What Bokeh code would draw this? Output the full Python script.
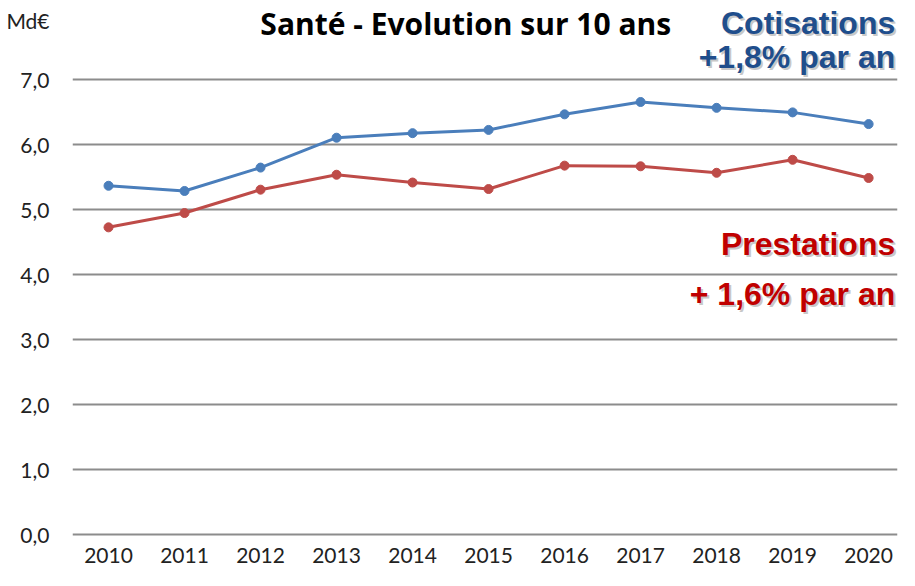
from bokeh.plotting import figure
from bokeh.models import Range1d, Label, FixedTicker, CustomJSTickFormatter
from bokeh.embed import file_html
from bokeh.resources import INLINE

years = [2010, 2011, 2012, 2013, 2014, 2015, 2016, 2017, 2018, 2019, 2020]
cotisations = [5.37, 5.29, 5.65, 6.11, 6.18, 6.23, 6.47, 6.66, 6.57, 6.50, 6.32]
prestations = [4.73, 4.95, 5.31, 5.54, 5.42, 5.32, 5.68, 5.67, 5.57, 5.77, 5.49]
y_ticks = [0, 1, 2, 3, 4, 5, 6, 7]
unit_label = "Md€"
unit_pos = 7.92

p = figure(width=899, height=570, output_backend="svg", toolbar_location=None,
           x_range=Range1d(2009.526, 2020.38), y_range=Range1d(-0.03, 8.2227),
           min_border_left=72, min_border_right=2, min_border_top=0, min_border_bottom=34)
p.outline_line_color = None
p.background_fill_color = "white"

p.xaxis.ticker = FixedTicker(ticks=years)
p.yaxis.ticker = FixedTicker(ticks=y_ticks + [unit_pos])
p.ygrid.ticker = FixedTicker(ticks=y_ticks)
p.yaxis.formatter = CustomJSTickFormatter(
    code="return tick > 7.5 ? '%s' : tick.toFixed(1).replace('.', ',');" % unit_label)
for ax in (p.xaxis[0], p.yaxis[0]):
    ax.axis_line_color = None
    ax.major_tick_line_color = None
    ax.minor_tick_line_color = None
    ax.major_label_text_font = "Lato"
    ax.major_label_text_font_size = "21px"
    ax.major_label_text_color = "#222222"
p.yaxis.major_label_standoff = 17
p.xaxis.major_label_standoff = 5
p.xgrid.grid_line_color = None
p.ygrid.grid_line_color = "#8c8c8c"
p.ygrid.grid_line_width = 2

blue = "#4a7ebb"
red = "#be4b48"
p.line(years, cotisations, line_color=blue, line_width=3)
p.scatter(years, cotisations, size=9, fill_color=blue, line_color=blue)
p.line(years, prestations, line_color=red, line_width=3)
p.scatter(years, prestations, size=9, fill_color=red, line_color=red)

def lab(x, y, text, color, size, font, style, align, shadow=False):
    if shadow:
        p.add_layout(Label(x=x, y=y, text=text, text_color="#c8c8c8", text_font=font,
                           text_font_size=size, text_font_style=style, text_align=align,
                           text_baseline="middle", x_offset=2, y_offset=-2))
    p.add_layout(Label(x=x, y=y, text=text, text_color=color, text_font=font,
                       text_font_size=size, text_font_style=style, text_align=align,
                       text_baseline="middle"))

right_x = 2020.35
lab(2014.70, 7.87, "Santé - Evolution sur 10 ans", "black", "30px", "Open Sans", "bold", "center")
lab(right_x, 7.87, "Cotisations", "#1f4e8c", "32px", "Liberation Sans", "bold", "right", True)
lab(right_x, 7.36, "+1,8% par an", "#1f4e8c", "32px", "Liberation Sans", "bold", "right", True)
lab(right_x, 4.47, "Prestations", "#c00000", "32px", "Liberation Sans", "bold", "right", True)
lab(right_x, 3.71, "+ 1,6% par an", "#c00000", "32px", "Liberation Sans", "bold", "right", True)

open("out.html", "w").write(file_html(p, INLINE))
